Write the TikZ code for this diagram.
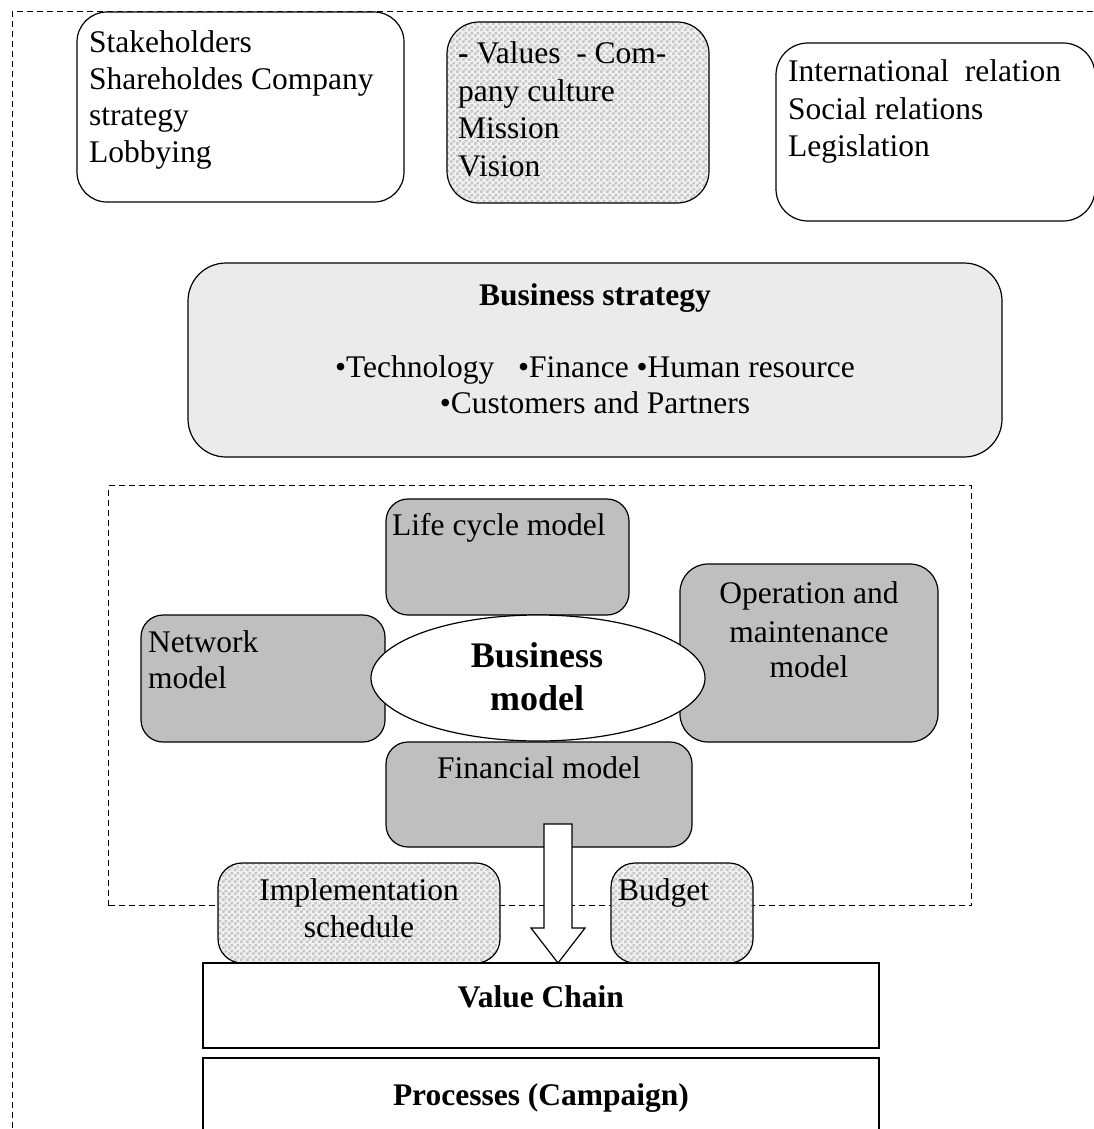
\documentclass[tikz,border=0pt]{standalone}
\usepackage{fontspec}
\setmainfont{Liberation Serif}
\usetikzlibrary{patterns,shapes.geometric,calc}
\pgfdeclarepatternformonly{mychecker}{\pgfpointorigin}{\pgfqpoint{6pt}{6pt}}{\pgfqpoint{6pt}{6pt}}{%
  \pgfpathrectangle{\pgfpointorigin}{\pgfqpoint{3pt}{3pt}}%
  \pgfpathrectangle{\pgfqpoint{3pt}{3pt}}{\pgfqpoint{3pt}{3pt}}%
  \pgfusepath{fill}}
\begin{document}
\begin{tikzpicture}[x=1pt,y=-1pt,
  txt/.style={inner sep=0pt, font=\fontsize{31.5}{36}\selectfont},
  btxt/.style={inner sep=0pt, font=\fontsize{31.5}{36}\selectfont\bfseries},
  bigtxt/.style={inner sep=0pt, font=\fontsize{36}{41}\selectfont\bfseries},
  box/.style={draw=black, line width=1.2pt, inner sep=0pt, outer sep=0pt},
  rbox/.style={box, rectangle, rounded corners=#1},
  rbox/.default=22pt,
  dashbox/.style={draw=black, line width=1pt, dash pattern=on 6pt off 4pt},
  chk/.style={preaction={fill=gray!12}, pattern=mychecker, pattern color=gray!45},
  gfill/.style={fill=gray!50},
]
\useasboundingbox (0,0) rectangle (1094,1129);
\clip (0,0) rectangle (1094,1129);
\fill[white] (0,0) rectangle (1094,1129);

% outer and inner dashed frames
\node[dashbox, rectangle, inner sep=0pt, minimum width=1100pt, minimum height=1140pt, anchor=north west] (outer) at (12,11) {};
\node[dashbox, rectangle, inner sep=0pt, minimum width=863pt, minimum height=420pt, anchor=north west] (frame) at (108,485) {};

% top boxes
\node[rbox=30pt, fill=white, minimum width=327pt, minimum height=190pt] (sh) at (240.5,107) {};
\node[rbox=32pt, chk, minimum width=262pt, minimum height=181pt] (val) at (578,112.5) {};
\node[rbox=32pt, fill=white, minimum width=319pt, minimum height=178pt] (intl) at (935.5,132) {};

\node[txt, anchor=base west] (sh1) at (89,53) {Stakeholders};
\node[txt, anchor=base west] (sh2) at (89,89.3) {Shareholdes Company};
\node[txt, anchor=base west] (sh3) at (89,125.6) {strategy};
\node[txt, anchor=base west] (sh4) at (89,162) {Lobbying};

\node[txt, anchor=base west] (v1) at (458,64) {\textbf{-} Values\ \ - Com-};
\node[txt, anchor=base west] (v2) at (458,101.5) {pany culture};
\node[txt, anchor=base west] (v3) at (458,139) {Mission};
\node[txt, anchor=base west] (v4) at (458,176.5) {Vision};

\node[txt, anchor=base west] (i1) at (788,82) {International\ \ relation};
\node[txt, anchor=base west] (i2) at (788,119.5) {Social relations};
\node[txt, anchor=base west] (i3) at (788,157) {Legislation};

% business strategy
\node[rbox=38pt, fill=gray!16, minimum width=814pt, minimum height=194pt] (bs) at (595,360) {};
\node[btxt, anchor=base] (bs1) at (595,305) {Business strategy};
\node[txt, anchor=base] (bs2) at (595,377) {•Technology\ \ \ •Finance •Human resource};
\node[txt, anchor=base] (bs3) at (595,413) {•Customers and Partners};

% model boxes
\node[rbox=22pt, gfill, minimum width=243pt, minimum height=116pt] (lc) at (507.5,557) {};
\node[rbox=28pt, gfill, minimum width=258pt, minimum height=178pt] (op) at (809,653) {};
\node[rbox=22pt, gfill, minimum width=244pt, minimum height=127pt] (nw) at (263,678.5) {};
\node[rbox=22pt, gfill, minimum width=306pt, minimum height=105pt] (fin) at (539,794.5) {};
\node[box, ellipse, fill=white, minimum width=334pt, minimum height=126pt] (bm) at (538,678) {};

\node[txt, anchor=base west] (lc1) at (392,535) {Life cycle model};
\node[txt, anchor=base] (op1) at (809,603) {Operation and};
\node[txt, anchor=base] (op2) at (809,642) {maintenance};
\node[txt, anchor=base] (op3) at (809,677) {model};
\node[txt, anchor=base west] (nw1) at (148,652) {Network};
\node[txt, anchor=base west] (nw2) at (148,688) {model};
\node[bigtxt, anchor=base] (bm1) at (537,667) {Business};
\node[bigtxt, anchor=base] (bm2) at (537,710) {model};
\node[txt, anchor=base] (fin1) at (539,778) {Financial model};

% schedule and budget
\node[rbox=24pt, chk, minimum width=282pt, minimum height=100pt] (impl) at (359,913) {};
\node[rbox=24pt, chk, minimum width=142pt, minimum height=100pt] (bud) at (682,913) {};
\node[txt, anchor=base] (impl1) at (359,900) {Implementation};
\node[txt, anchor=base] (impl2) at (359,937) {schedule};
\node[txt, anchor=base west] (bud1) at (618,900) {Budget};

% value chain and processes
\node[box, rectangle, line width=1.4pt, fill=white, minimum width=676pt, minimum height=85pt] (vc) at (541,1005.5) {};
\node[box, rectangle, line width=1.4pt, fill=white, minimum width=676pt, minimum height=82pt] (pr) at (541,1099) {};
\node[btxt, anchor=base] (vc1) at (541,1007) {Value Chain};
\node[btxt, anchor=base] (pr1) at (541,1105) {Processes (Campaign)};

% block arrow from financial model to value chain
\coordinate (atop) at (558,824);
\coordinate (tip) at (558,963);
\draw[line width=1.2pt, fill=white, line join=miter]
  ($(atop)+(-14,0)$) -- ($(atop)+(14,0)$) -- ($(tip)+(14,-35)$) -- ($(tip)+(27,-35)$)
  -- (tip) -- ($(tip)+(-27,-35)$) -- ($(tip)+(-14,-35)$) -- cycle;
\end{tikzpicture}
\end{document}
